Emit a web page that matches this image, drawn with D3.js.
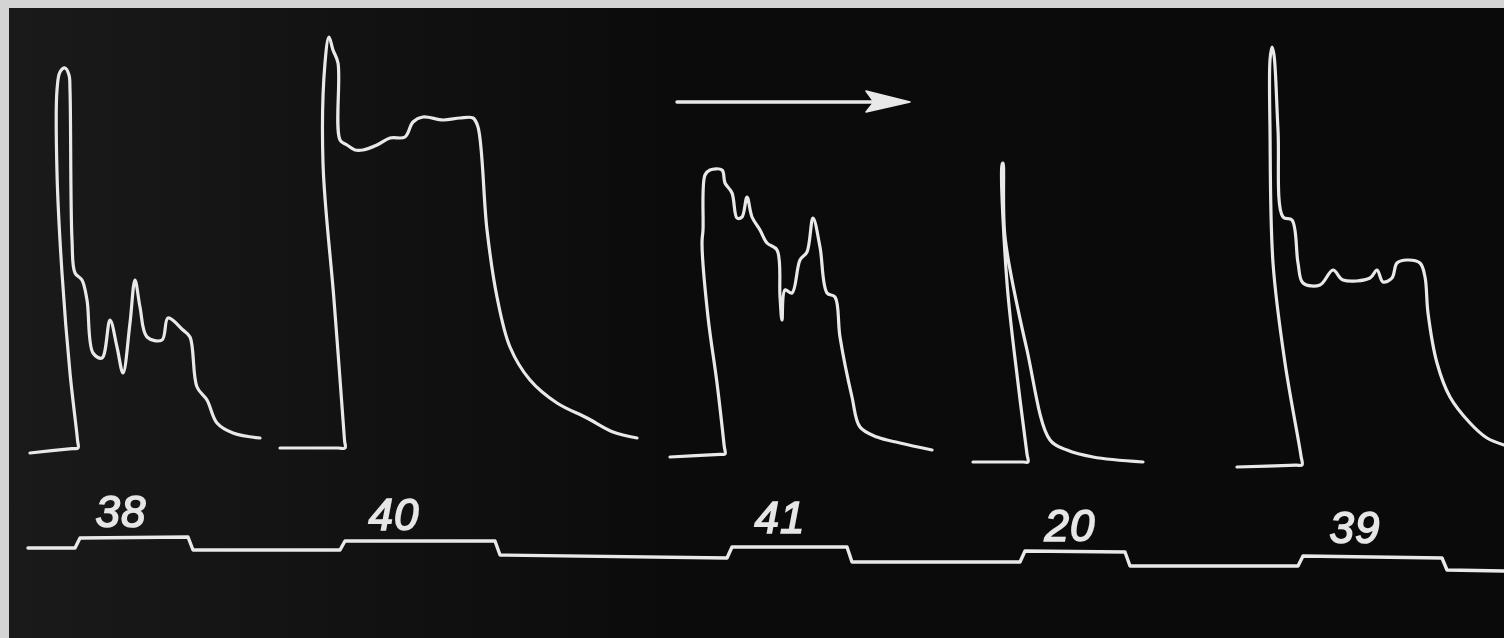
<!DOCTYPE html>
<html>
<head>
<meta charset="utf-8">
<script src="https://cdn.jsdelivr.net/npm/d3@7"></script>
<style>
  html, body { margin: 0; padding: 0; background: #d4d4d4; overflow: hidden; }
  #record { width: 1504px; height: 638px; }
</style>
</head>
<body>
<div id="record"></div>
<script>
// x = time (tenths of the sweep), y = deflection
const response38 = [
  [3.0, 4.25], [7.2, 5.35], [7.8, 5.5], [7.75, 7.5], [7.0, 24.25], [6.2, 49.25], [5.7, 74.25],
  [5.7, 95], [6.0, 99.5], [6.5, 100.5], [6.9, 98.75], [7.0, 95], [7.2, 57.5], [7.5, 49.25],
  [8.2, 47.5], [8.7, 42.5], [9.3, 29.25], [10.2, 28], [11.0, 37.5], [11.7, 30.75], [12.3, 24.25],
  [13.0, 36.75], [13.5, 47.5], [14.0, 40.75], [14.7, 33.25], [16.2, 32.5], [16.8, 38],
  [18.3, 35], [19.0, 33.25], [19.7, 20.75], [20.7, 17.5], [21.7, 11.75], [23.3, 9.25], [26.0, 8]
];
const response40 = [
  [28.0, 5.5], [33.8, 5.5], [34.5, 5.5], [34.45, 7.5], [33.4, 42.5], [32.3, 76.75],
  [32.5, 101.75], [32.9, 108.25], [33.3, 105], [33.8, 101.75], [34.0, 82.5], [34.7, 81.25],
  [35.5, 80], [36.3, 80], [37.7, 81.25], [39.0, 83], [40.5, 83.25], [41.3, 87], [42.3, 88.25],
  [44.3, 87.5], [46.0, 88], [47.3, 88], [47.8, 85.75], [48.7, 60], [49.7, 43.25], [51.0, 30.75],
  [53.0, 22.5], [55.7, 16.75], [58.7, 13], [61.3, 9.5], [63.7, 8]
];
const response41 = [
  [67.0, 3.25], [72.0, 3.9], [72.5, 4], [72.42, 6], [71.7, 21.75], [70.8, 38.25], [70.2, 56.75],
  [70.3, 60], [70.5, 73.75], [71.0, 75], [72.2, 75], [72.5, 71.75], [73.2, 69.25], [73.7, 63],
  [74.2, 63.25], [74.7, 68.25], [75.2, 63.25], [76.0, 60], [76.7, 56.75], [77.7, 55],
  [78.0, 43.25], [78.2, 37.5], [78.5, 45], [79.2, 44.25], [80.0, 52.5], [80.7, 54.5],
  [81.3, 63], [82.0, 55.75], [82.7, 44.25], [83.5, 43.25], [84.0, 33.25], [85.2, 18.25],
  [86.0, 10.75], [87.7, 8.25], [90.0, 6.75], [93.2, 5]
];
const response20 = [
  [97.3, 2], [102.3, 2], [102.8, 2], [102.7, 4], [101.8, 21.75], [100.7, 46.75], [100.2, 76.25],
  [100.3, 76.75], [100.5, 58.25], [102.7, 30], [105.0, 7.5], [106.7, 5], [109.3, 3.25], [114.3, 2]
];
const response39 = [
  [123.7, 0.75], [129.6, 1.2], [130.2, 1.25], [130.1, 3.5], [128.5, 26.75], [127.3, 51.75],
  [127.0, 85], [127.0, 102.5], [127.2, 105.75], [127.4, 103.75], [127.8, 85], [128.3, 63.25],
  [129.2, 62.5], [129.8, 51.75], [130.3, 46.75], [132.0, 46.25], [133.3, 50], [134.3, 47.5],
  [137.0, 48], [137.7, 50], [138.3, 47], [139.2, 48], [139.7, 51.75], [140.7, 52.5],
  [142.0, 51.75], [142.5, 48.25], [142.8, 39.25], [143.7, 26.75], [145.0, 18.25],
  [147.0, 11.75], [148.7, 8], [150.4, 6.25]
];

const stimulusMarker = [
  [2.8, -19.5], [7.5, -19.5], [8.0, -17], [18.8, -16.75], [19.3, -20], [34.0, -20],
  [34.5, -17.75], [49.5, -17.75], [50.0, -21.25], [72.7, -22], [73.2, -19.25], [84.7, -19.25],
  [85.2, -23], [102.0, -23], [102.5, -20.25], [112.5, -20.5], [113.0, -24], [129.8, -24],
  [130.3, -21.5], [144.2, -22], [144.7, -25], [150.4, -25.25]
];
const stimulusLabels = ["38", "40", "41", "20", "39"];
const labelPositions = [[12.1, -14.25], [39.4, -15], [78.0, -15.75], [107.0, -17.75], [135.5, -18.25]];

const arrowShaft = [[67.7, 92], [90.0, 92]];
const arrowHead = [[91.0, 92], [86.6, 94.75], [87.4, 92], [86.6, 89.5]];

const responses = [response38, response40, response41, response20, response39];

const width = 1504;
const height = 638;

const x = d3.scaleLinear().domain([0, 150.4]).range([0, width]);
const y = d3.scaleLinear().domain([-42, 117.5]).range([height, 0]);

const svg = d3.select("#record")
  .append("svg")
  .attr("width", width)
  .attr("height", height);

const defs = svg.append("defs");

const shade = defs.append("linearGradient")
  .attr("id", "shade")
  .attr("x1", "0").attr("x2", "1").attr("y1", "0").attr("y2", "0");
shade.append("stop").attr("offset", "0").attr("stop-color", "#1a1a1a");
shade.append("stop").attr("offset", "0.2").attr("stop-color", "#131313");
shade.append("stop").attr("offset", "0.45").attr("stop-color", "#0b0b0b");
shade.append("stop").attr("offset", "1").attr("stop-color", "#0a0a0a");

defs.append("filter")
  .attr("id", "soft")
  .append("feGaussianBlur")
  .attr("stdDeviation", 0.6);

// paper edge and the dark photograph
svg.append("rect")
  .attr("width", width).attr("height", height)
  .attr("fill", "#d4d4d4");
svg.append("rect")
  .attr("x", 9).attr("y", 8)
  .attr("width", width - 9).attr("height", height - 8)
  .attr("fill", "url(#shade)");

const trace = d3.line()
  .x(d => x(d[0]))
  .y(d => y(d[1]))
  .curve(d3.curveCatmullRom.alpha(0.5));

const straight = d3.line()
  .x(d => x(d[0]))
  .y(d => y(d[1]));

const ink = svg.append("g")
  .attr("filter", "url(#soft)")
  .attr("fill", "none")
  .attr("stroke", "#e9e9e9")
  .attr("stroke-linejoin", "round")
  .attr("stroke-linecap", "round");

ink.selectAll("path.response")
  .data(responses)
  .enter()
  .append("path")
  .attr("class", "response")
  .attr("stroke-width", 3.2)
  .attr("d", trace);

ink.append("path")
  .datum(stimulusMarker)
  .attr("stroke-width", 3.4)
  .attr("d", straight);

// direction arrow
ink.append("path")
  .datum(arrowShaft)
  .attr("stroke-width", 3.4)
  .attr("d", straight);

ink.append("path")
  .datum(arrowHead)
  .attr("fill", "#e9e9e9")
  .attr("stroke-width", 1.5)
  .attr("d", d => straight(d) + "Z");

svg.append("g")
  .attr("filter", "url(#soft)")
  .selectAll("text")
  .data(stimulusLabels)
  .enter()
  .append("text")
  .attr("x", (d, i) => x(labelPositions[i][0]))
  .attr("y", (d, i) => y(labelPositions[i][1]))
  .attr("text-anchor", "middle")
  .attr("font-family", "'Liberation Sans', Arial, sans-serif")
  .attr("font-style", "italic")
  .attr("font-size", 44)
  .attr("letter-spacing", 1)
  .attr("fill", "#e6e6e6")
  .attr("stroke", "#e6e6e6")
  .attr("stroke-width", 1.6)
  .text(d => d);
</script>
</body>
</html>
